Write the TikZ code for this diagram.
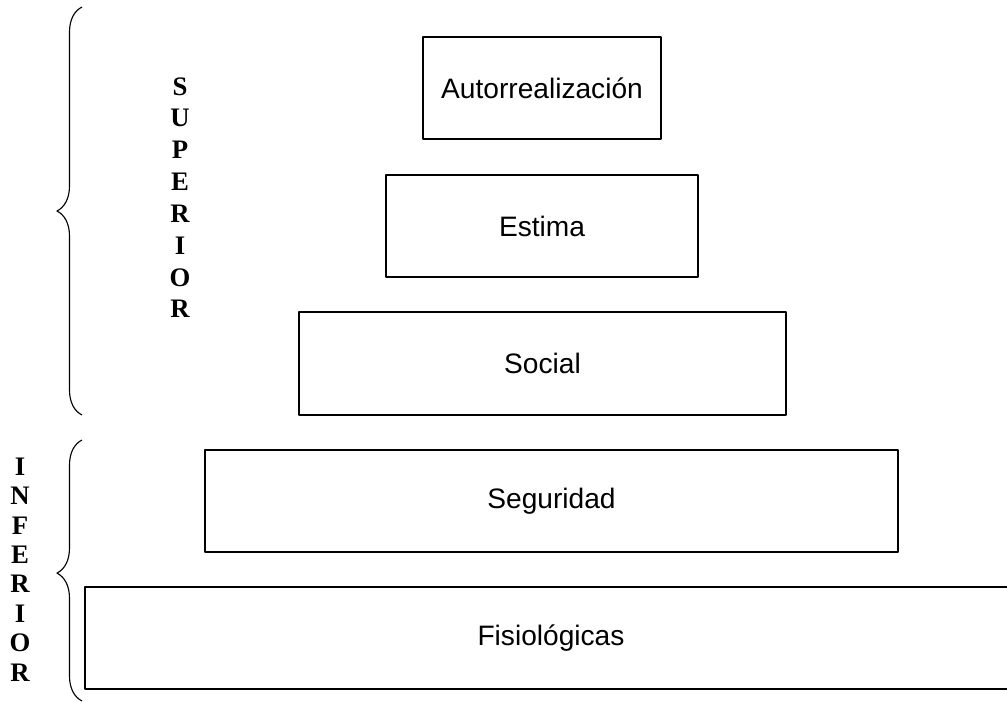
\documentclass[tikz,border=0pt]{standalone}
\usepackage{fontspec}
\setmainfont{Liberation Serif}
\newfontfamily\arial{Liberation Sans}
\usetikzlibrary{decorations.pathreplacing}
\begin{document}
\begin{tikzpicture}[x=0.025cm,y=-0.025cm,line join=round,
	caja/.style={draw,line width=1.1pt,inner sep=0pt,font=\arial\fontsize{20}{24}\selectfont},
	letra/.style={font=\bfseries\fontsize{19}{22}\selectfont,inner sep=0pt},
	llave/.style={decorate,decoration={brace,amplitude=0.625cm,aspect=#1},line width=0.8pt}]
	\useasboundingbox (0,0) rectangle (1007,702);
	\path
	(82,415) coordinate (S1) (82,7) coordinate (S2)
	(82,701) coordinate (I1) (82,440) coordinate (I2)
	;
	\node[caja,minimum width=238*0.025cm,minimum height=102*0.025cm] (Au) at (542,88) {Autorrealización};
	\node[caja,minimum width=312*0.025cm,minimum height=102*0.025cm] (Es) at (542,226) {Estima};
	\node[caja,minimum width=487*0.025cm,minimum height=103*0.025cm] (So) at (542.5,363.5) {Social};
	\node[caja,minimum width=693*0.025cm,minimum height=102*0.025cm] (Se) at (551.5,501) {Seguridad};
	\node[caja,minimum width=932*0.025cm,minimum height=102*0.025cm] (Fi) at (551,638) {Fisiológicas};
	\draw[llave=0.5] (S1)--(S2);
	\draw[llave=0.49] (I1)--(I2);
	\foreach \l [count=\i] in {S,U,P,E,R,I,O,R}\node[letra] (s\i) at (180,{86.5+31.8*(\i-1)}) {\l};
	\foreach \l [count=\i] in {I,N,F,E,R,I,O,R}\node[letra] (i\i) at (20,{466.5+29.4*(\i-1)}) {\l};
\end{tikzpicture}
\end{document}
